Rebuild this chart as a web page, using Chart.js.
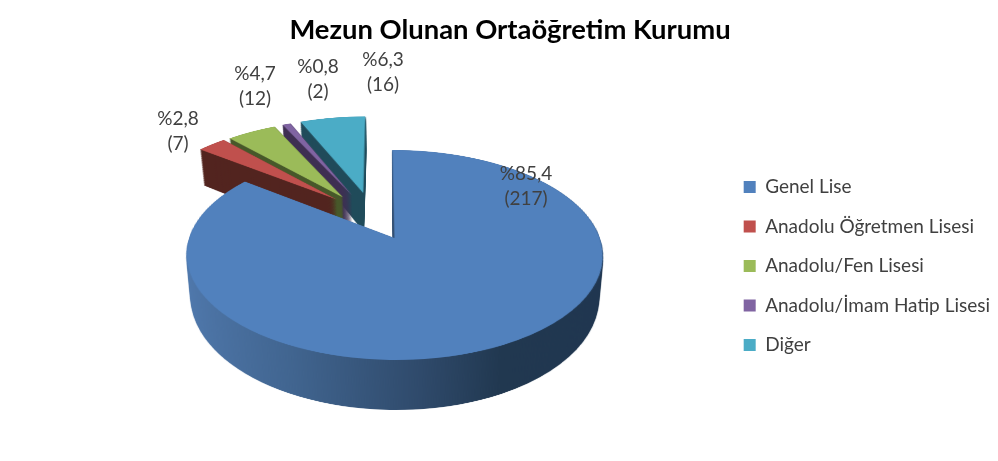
<!DOCTYPE html>
<html><head><meta charset="utf-8">
<style>html,body{margin:0;padding:0;background:#fff}canvas{display:block}</style>
<script src="https://cdn.jsdelivr.net/npm/chart.js@4"></script></head>
<body><canvas id="c" width="998" height="461"></canvas>
<script>
const chartTitle = 'Mezun Olunan Ortaöğretim Kurumu';
const categories = ['Genel Lise','Anadolu Öğretmen Lisesi','Anadolu/Fen Lisesi','Anadolu/İmam Hatip Lisesi','Diğer'];
const counts = [217,7,12,2,16];
const percents = ['%85,4','%2,8','%4,7','%0,8','%6,3'];
const topColors = ['#5181bd','#c0504d','#9bbb59','#8064a2','#4bacc6'];
const wallColors = ['#2f4a6b','#52241f','#47582a','#3e2f52','#204b5a'];
const explode = [0,0.5,0.5,0.5,0.5];
const explodeDirection = [0,36.5,32,26,18.7];
const labelCenters = [[526,186],[178,131],[255,86],[318,79],[383,72]];

// perspective of the pie plane
const P0 = {x:394.5, y:238, A:205.3, a:102.2, b:0.162, c:1.5, H:41.9, shrink:0.02};
const L = 1.8, PX = 300, SIZE = Math.round(2*L*PX);

function project(ctx, src, h, Yrange){
  const sc = 1 - P0.shrink*h/P0.H;
  for(let y=100;y<425;y++){
    const d0=y-P0.y, d1=d0+1;
    const Y0=(d0-h)/(P0.a+P0.b*d0), Y1=(d1-h)/(P0.a+P0.b*d1);
    if(Y1<Yrange[0]||Y0>Yrange[1]) continue;
    const m=(Y0+Y1)/2, s=1/(1-P0.b*m), k=P0.A*sc*s;
    ctx.drawImage(src,0,(Y0+L)*PX,SIZE,(Y1-Y0)*PX,P0.x-L*k+P0.c*m*s,y,2*L*k,1);
  }
}
function sliceCanvas(arc,i,R){
  const cv=document.createElement('canvas');cv.width=cv.height=SIZE;
  const o=cv.getContext('2d');const q=PX/R;
  const dir=explodeDirection[i]*Math.PI/180;
  o.setTransform(q,0,0,q,L*PX-arc.x*q-Math.sin(dir)*explode[i]*PX,L*PX-arc.y*q-Math.cos(dir)*explode[i]*PX);
  arc.draw(o);
  return cv;
}
function wallCanvas(src,i){
  const cv=document.createElement('canvas');cv.width=cv.height=SIZE;
  const o=cv.getContext('2d');
  o.drawImage(src,0,0);
  o.globalCompositeOperation='source-in';
  if(i===0){
    const g=o.createLinearGradient((L-1)*PX,0,(L+1)*PX,0);
    g.addColorStop(0,'#5079ad');g.addColorStop(0.28,'#416590');
    g.addColorStop(0.55,'#2f4a6b');g.addColorStop(0.72,'#213850');g.addColorStop(1,'#203650');
    o.fillStyle=g;
  } else o.fillStyle=wallColors[i];
  o.fillRect(0,0,SIZE,SIZE);
  return cv;
}
const pie3d={id:'pie3d',
  beforeDatasetsDraw(chart){
    const ctx=chart.ctx, arcs=chart.getDatasetMeta(0).data;
    const order=[4,3,2,1,0];
    ctx.save();
    ctx.imageSmoothingEnabled=true;ctx.imageSmoothingQuality='high';
    for(const i of order){
      const arc=arcs[i], R=arc.outerRadius;
      const top=sliceCanvas(arc,i,R), wall=wallCanvas(top,i);
      const range=i===0?[-1.02,1.02]:[-1.7,0.1];
      for(let h=P0.H;h>0;h-=0.8) project(ctx,wall,h,range);
      project(ctx,top,0,range);
    }
    ctx.fillStyle='#404040';ctx.textAlign='center';ctx.textBaseline='middle';
    ctx.font='19px Lato';
    labelCenters.forEach((p,i)=>{
      ctx.fillText(percents[i],p[0],p[1]-12.5);
      ctx.fillText('('+counts[i]+')',p[0],p[1]+12.5);
    });
    ctx.restore();
    return false;
  }};
new Chart(document.getElementById('c'),{
  type:'pie',
  data:{labels:categories,datasets:[{data:counts,backgroundColor:topColors,borderWidth:0}]},
  plugins:[pie3d],
  options:{responsive:false,animation:false,rotation:-0.3,radius:130,
    layout:{padding:{left:20,right:-2,top:0,bottom:0}},
    plugins:{
      tooltip:{enabled:false},
      title:{display:true,text:chartTitle,color:'#000',font:{family:'Lato',size:27.4,weight:'bold'},padding:{top:14,bottom:24}},
      legend:{position:'right',fullSize:false,labels:{color:'#404040',font:{family:'Lato',size:19},boxWidth:12,boxHeight:12,padding:20.5}}
    }}
});
</script></body></html>
